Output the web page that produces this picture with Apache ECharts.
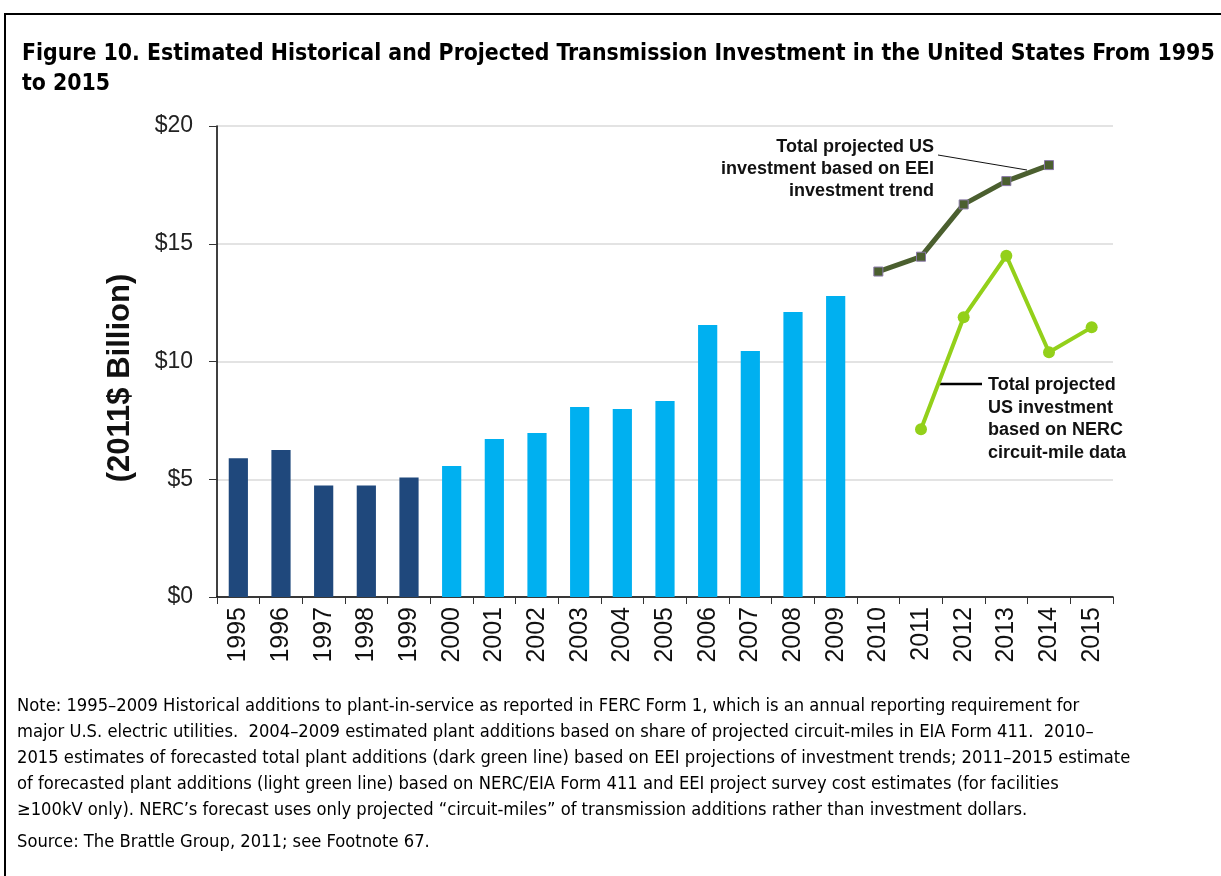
<!DOCTYPE html>
<html>
<head>
<meta charset="utf-8">
<script src="https://cdn.jsdelivr.net/npm/echarts@6/dist/echarts.min.js"></script>
<style>
  html, body { margin: 0; padding: 0; background: #fff; }
  #chart_box_id { width: 1221px; height: 876px; }
</style>
</head>
<body>
<div id="chart_box_id"></div>
<script>
// categories and values
var years = ['1995','1996','1997','1998','1999','2000','2001','2002','2003','2004','2005','2006','2007','2008','2009','2010','2011','2012','2013','2014','2015'];
var histValues = [5.89, 6.24, 4.73, 4.73, 5.07, 5.56, 6.71, 6.96, 8.07, 7.98, 8.32, 11.55, 10.45, 12.1, 12.78, null, null, null, null, null, null];
var eeiValues = [null, null, null, null, null, null, null, null, null, null, null, null, null, null, null, 13.82, 14.45, 16.67, 17.66, 18.34, null];
var nercValues = [null, null, null, null, null, null, null, null, null, null, null, null, null, null, null, null, 7.12, 11.88, 14.49, 10.39, 11.45];
var yTicks = [0, 5, 10, 15, 20];

var narrowFont = "'Liberation Sans Narrow', 'Arial Narrow', 'DejaVu Sans Condensed', sans-serif";
var armFont = "'Liberation Sans', Arial, sans-serif";

var noteText = [
    'Note: 1995\u20132009 Historical additions to plant-in-service as reported in FERC Form 1, which is an annual reporting requirement for',
    'major U.S. electric utilities.  2004\u20132009 estimated plant additions based on share of projected circuit-miles in EIA Form 411.  2010\u2013',
    '2015 estimates of forecasted total plant additions (dark green line) based on EEI projections of investment trends; 2011\u20132015 estimate',
    'of forecasted plant additions (light green line) based on NERC/EIA Form 411 and EEI project survey cost estimates (for facilities',
    '\u2265100kV only). NERC\u2019s forecast uses only projected \u201ccircuit-miles\u201d of transmission additions rather than investment dollars.'
].join('\n');

initChart();

function initChart() {
    var myChart = echarts.init(document.getElementById('chart_box_id'));
    //历史柱子，1995-1999 深蓝，2000 之后浅蓝
    var barData = [];
    for (var i = 0, lens = histValues.length; i < lens; i++) {
        barData[i] = {
            value: histValues[i],
            itemStyle: { color: parseInt(years[i]) < 2000 ? '#1f487c' : '#00b0f0' }
        };
    }
    var option = {
        animation: false,
        title: {
            text: 'Figure 10. Estimated Historical and Projected Transmission Investment in the United States From 1995\nto 2015',
            left: 17,
            top: 34,
            textStyle: {
                fontFamily: narrowFont,
                fontWeight: 'bold',
                fontSize: 22.8,
                lineHeight: 30,
                color: '#000'
            }
        },
        grid: {
            left: 217,
            right: 108,
            top: 126,
            bottom: 279
        },
        xAxis: {
            type: 'category',
            data: years,
            axisLine: { lineStyle: { color: '#000', width: 1.5 } },
            axisTick: { show: true, length: 7, interval: 0, lineStyle: { color: '#333' } },
            axisLabel: {
                rotate: 90,
                interval: 0,
                margin: 10,
                fontFamily: armFont,
                fontSize: 25,
                color: '#111'
            }
        },
        yAxis: {
            type: 'value',
            min: yTicks[0],
            max: yTicks[yTicks.length - 1],
            interval: 5,
            axisLine: { show: true, lineStyle: { color: '#000', width: 1.5 } },
            axisTick: { show: true, length: 8, lineStyle: { color: '#333' } },
            axisLabel: {
                margin: 24,
                fontFamily: armFont,
                fontSize: 23,
                color: '#222',
                formatter: function (v) { return '$' + v; }
            },
            splitLine: { lineStyle: { color: '#dadada', width: 1.5 } }
        },
        series: [
            {
                name: 'Historical',
                type: 'bar',
                data: barData,
                barWidth: '45%'
            },
            {
                name: 'EEI',
                type: 'line',
                data: eeiValues,
                symbol: 'rect',
                symbolSize: 9,
                lineStyle: { color: '#4b5f2f', width: 5 },
                itemStyle: { color: '#4b5f2f', borderColor: '#8a78a8', borderWidth: 1 }
            },
            {
                name: 'NERC',
                type: 'line',
                data: nercValues,
                symbol: 'circle',
                symbolSize: 12,
                lineStyle: { color: '#93d01a', width: 4 },
                itemStyle: { color: '#93d01a' }
            }
        ],
        graphic: [
            {
                type: 'rect',
                shape: { x: 5, y: 14, width: 1240, height: 900 },
                style: { fill: 'none', stroke: '#000', lineWidth: 2 },
                silent: true
            },
            {
                type: 'text',
                x: 120, y: 378,
                rotation: Math.PI / 2,
                style: {
                    text: '(2011$ Billion)',
                    fontFamily: armFont,
                    fontWeight: 'bold',
                    fontSize: 31,
                    fill: '#111',
                    align: 'center',
                    verticalAlign: 'middle'
                }
            },
            {
                type: 'text',
                x: 934, y: 136,
                style: {
                    text: 'Total projected US\ninvestment based on EEI\ninvestment trend',
                    fontFamily: armFont,
                    fontWeight: 'bold',
                    fontSize: 18,
                    lineHeight: 22,
                    fill: '#111',
                    align: 'right'
                }
            },
            {
                type: 'line',
                shape: { x1: 938, y1: 155, x2: 1027, y2: 170 },
                style: { stroke: '#111', lineWidth: 1 }
            },
            {
                type: 'text',
                x: 988, y: 374,
                style: {
                    text: 'Total projected\nUS investment\nbased on NERC\ncircuit-mile data',
                    fontFamily: armFont,
                    fontWeight: 'bold',
                    fontSize: 18,
                    lineHeight: 22.5,
                    fill: '#111',
                    align: 'left'
                }
            },
            {
                type: 'line',
                shape: { x1: 940, y1: 384, x2: 982, y2: 384 },
                style: { stroke: '#000', lineWidth: 2.5 }
            },
            {
                type: 'text',
                x: 17, y: 693,
                style: {
                    text: noteText,
                    fontFamily: narrowFont,
                    fontSize: 18.2,
                    lineHeight: 26,
                    fill: '#000'
                }
            },
            {
                type: 'text',
                x: 17, y: 829,
                style: {
                    text: 'Source: The Brattle Group, 2011; see Footnote 67.',
                    fontFamily: narrowFont,
                    fontSize: 18.2,
                    lineHeight: 26,
                    fill: '#000'
                }
            }
        ]
    };
    myChart.setOption(option, true);
}
</script>
</body>
</html>
